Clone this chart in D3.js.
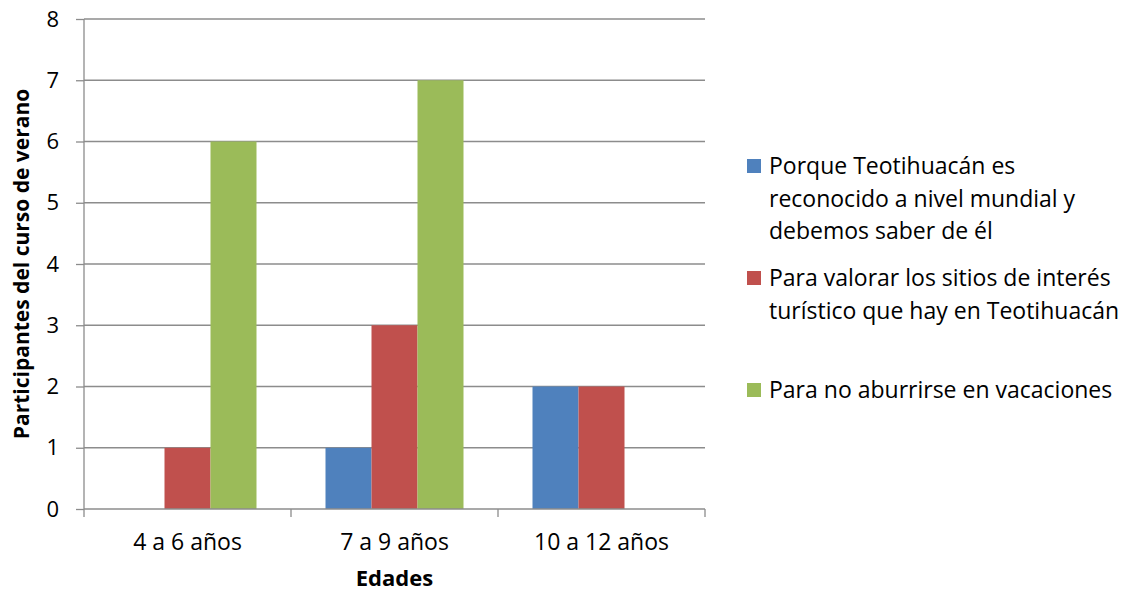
<!DOCTYPE html>
<html lang="es">
<head>
  <meta charset="UTF-8">
  <title>Participantes del curso de verano</title>
  <script src="https://d3js.org/d3.v7.min.js"></script>
  <style>
    body { margin: 0; background: #fff; }
    svg text { font-family: "Open Sans", "Noto Sans", sans-serif; fill: #000; }
  </style>
</head>
<body>
  <svg id="chart" width="1129" height="594"></svg>
  <script>
    // data
    const categories = ["4 a 6 años", "7 a 9 años", "10 a 12 años"];
    const seriesNames = [
      "Porque Teotihuacán es reconocido a nivel mundial y debemos saber de él",
      "Para valorar los sitios de interés turístico que hay en Teotihuacán",
      "Para no aburrirse en vacaciones"
    ];
    const legendLines = [
      ["Porque Teotihuacán es", "reconocido a nivel mundial y", "debemos saber de él"],
      ["Para valorar los sitios de interés", "turístico que hay en Teotihuacán"],
      ["Para no aburrirse en vacaciones"]
    ];
    const porque = [0, 1, 2];
    const valorar = [1, 3, 2];
    const aburrirse = [6, 7, 0];
    const yTicks = [0, 1, 2, 3, 4, 5, 6, 7, 8];
    const colors = ["#4f81bd", "#c0504d", "#9bbb59"];

    const series = [porque, valorar, aburrirse];

    const svg = d3.select("#chart");
    const plotLeft = 84, plotRight = 705, plotTop = 19, plotBottom = 509;

    const x = d3.scaleBand().domain(categories).range([plotLeft, plotRight]);
    const xs = d3.scaleBand().domain(d3.range(series.length))
      .range([0, x.bandwidth()]).paddingOuter(0.75);
    const y = d3.scaleLinear().domain([0, 8]).range([plotBottom, plotTop]);

    // gridlines
    svg.append("g").selectAll("line").data(yTicks.slice(1)).join("line")
      .attr("x1", plotLeft).attr("x2", plotRight)
      .attr("y1", d => y(d)).attr("y2", d => y(d))
      .attr("stroke", "#8c8c8c").attr("stroke-width", 1.3);

    // bars
    series.forEach((vals, s) => {
      svg.append("g").selectAll("rect").data(vals).join("rect")
        .attr("x", (d, i) => x(categories[i]) + xs(s))
        .attr("width", xs.bandwidth())
        .attr("y", d => y(d))
        .attr("height", d => plotBottom - y(d))
        .attr("fill", colors[s]);
    });

    // y axis
    const yAxis = svg.append("g").attr("transform", `translate(${plotLeft},0)`)
      .call(d3.axisLeft(y).tickValues(yTicks).tickSize(8).tickPadding(17).tickFormat(d3.format("d")));
    yAxis.select(".domain").attr("stroke", "#8c8c8c").attr("stroke-width", 1.3)
      .attr("d", `M0,${plotTop}V${plotBottom}`);
    yAxis.selectAll(".tick line").attr("stroke", "#8c8c8c").attr("stroke-width", 1.3);
    yAxis.selectAll(".tick text").style("font-size", "22px").attr("fill", "#000");

    // x axis
    const xAxis = svg.append("g").attr("transform", `translate(0,${plotBottom})`)
      .call(d3.axisBottom(x).tickSize(0).tickPadding(25));
    xAxis.select(".domain").attr("stroke", "#8c8c8c").attr("stroke-width", 1.3)
      .attr("d", `M${plotLeft},0H${plotRight}`);
    xAxis.selectAll(".tick text").style("font-size", "23px").attr("fill", "#000");
    // category separators
    svg.append("g").selectAll("line")
      .data(categories.map(c => x(c)).concat([plotRight])).join("line")
      .attr("x1", d => d).attr("x2", d => d)
      .attr("y1", plotBottom).attr("y2", plotBottom + 8)
      .attr("stroke", "#8c8c8c").attr("stroke-width", 1.3);

    // axis titles
    svg.append("text")
      .attr("transform", `translate(29,264) rotate(-90)`)
      .attr("text-anchor", "middle")
      .style("font-size", "21px").style("font-weight", "bold")
      .text("Participantes del curso de verano");
    svg.append("text")
      .attr("x", (plotLeft + plotRight) / 2).attr("y", 586)
      .attr("text-anchor", "middle")
      .style("font-size", "22px").style("font-weight", "bold")
      .text("Edades");

    // legend
    const legendTop = [166, 278, 390];
    const legend = svg.append("g");
    seriesNames.forEach((name, s) => {
      const g = legend.append("g").attr("transform", `translate(747,${legendTop[s]})`);
      g.append("rect").attr("x", 0).attr("y", -7).attr("width", 14).attr("height", 14)
        .attr("fill", colors[s]);
      const t = g.append("text").attr("x", 22).attr("y", 0)
        .style("font-size", "23px");
      legendLines[s].forEach((ln, i) => {
        t.append("tspan").attr("x", 22).attr("dy", i === 0 ? "0.35em" : 32.5).text(ln);
      });
    });
  </script>
</body>
</html>
